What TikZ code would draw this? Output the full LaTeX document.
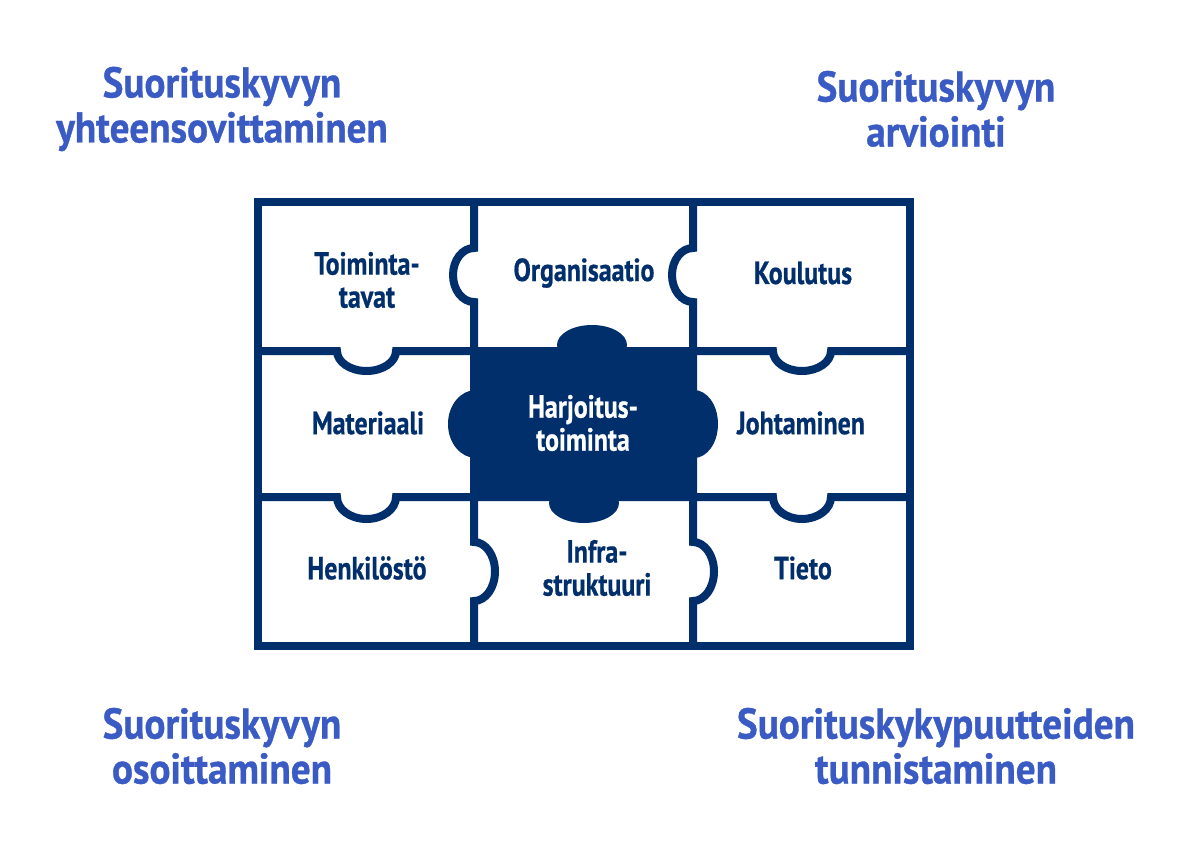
\documentclass[tikz,border=0pt]{standalone}
\usepackage{fontspec}
\newfontfamily\lblfont{PT Sans Bold}[FakeStretch=0.81,FakeBold=0.6]
\newfontfamily\ttlfont{PT Sans Bold}[FakeStretch=0.91,FakeBold=0.8]
\definecolor{navy}{RGB}{0,47,108}
\definecolor{ttlblue}{RGB}{58,91,196}
\begin{document}
\begin{tikzpicture}[x=1pt,y=-1pt,
  grid/.style={draw=navy,line width=8pt,line join=miter},
  lbl/.style={text=navy,align=center,inner sep=0pt,font=\lblfont\fontsize{32}{33}\selectfont},
  ttl/.style={text=ttlblue,align=center,inner sep=0pt,font=\ttlfont\fontsize{43}{45}\selectfont}]
\useasboundingbox (0,0) rectangle (1200,856);
\fill[white] (0,0) rectangle (1200,856);
% outer frame
\draw[grid] (258,202) rectangle (910,646);
% vertical divider 1
\draw[grid] (474,202) -- (474,248)
  .. controls (462.4,248) and (453,260.1) .. (453,275)
  .. controls (453,289.9) and (462.4,302) .. (474,302)
  -- (474,542)
  .. controls (485.6,542) and (495,555.2) .. (495,571.5)
  .. controls (495,587.8) and (485.6,601) .. (474,601)
  -- (474,646);
% vertical divider 2
\draw[grid] (693,202) -- (693,248)
  .. controls (681.4,248) and (672,260.1) .. (672,275)
  .. controls (672,289.9) and (681.4,302) .. (693,302)
  -- (693,542)
  .. controls (704.6,542) and (714,555.2) .. (714,571.5)
  .. controls (714,587.8) and (704.6,601) .. (693,601)
  -- (693,646);
% horizontal divider 1
\draw[grid] (258,351) -- (337,351)
  .. controls (337,362) and (350.2,371) .. (366.5,371)
  .. controls (382.8,371) and (396,362) .. (396,351)
  -- (773,351)
  .. controls (773,362) and (786,371) .. (802,371)
  .. controls (818,371) and (831,362) .. (831,351)
  -- (910,351);
% horizontal divider 2
\draw[grid] (258,497) -- (337,497)
  .. controls (337,509.2) and (350.2,519) .. (366.5,519)
  .. controls (382.8,519) and (396,509.2) .. (396,497)
  -- (773,497)
  .. controls (773,509.2) and (786,519) .. (802,519)
  .. controls (818,519) and (831,509.2) .. (831,497)
  -- (910,497);
% central piece
\fill[navy] (470,347) rectangle (697,501);
\fill[navy] (592,345) ellipse [x radius=35pt, y radius=20pt];
\fill[navy] (476,424) ellipse [x radius=28pt, y radius=34pt];
\fill[navy] (694,424) ellipse [x radius=24pt, y radius=34pt];
\fill[navy] (584,503) ellipse [x radius=35pt, y radius=20pt];
% labels
\node[lbl] (toim) at (367,280) {Toiminta-\\tavat};
\node[lbl] (org) at (584,273) {Organisaatio};
\node[lbl] (koul) at (803,273) {Koulutus};
\node[lbl] (mat) at (368,423) {Materiaali};
\node[lbl,text=white] (harj) at (583,423) {Harjoitus-\\toiminta};
\node[lbl] (joht) at (801,423) {Johtaminen};
\node[lbl] (henk) at (367,568) {Henkilöstö};
\node[lbl] (infra) at (597,568) {Infra-\\struktuuri};
\node[lbl] (tieto) at (803,568) {Tieto};
% titles
\node[ttl] (t1) at (222,109) {Suorituskyvyn\\yhteensovittaminen};
\node[ttl] (t2) at (936,109) {Suorituskyvyn\\arviointi};
\node[ttl] (t3) at (222,746) {Suorituskyvyn\\osoittaminen};
\node[ttl] (t4) at (936,746) {Suorituskykypuutteiden\\tunnistaminen};
\end{tikzpicture}
\end{document}
